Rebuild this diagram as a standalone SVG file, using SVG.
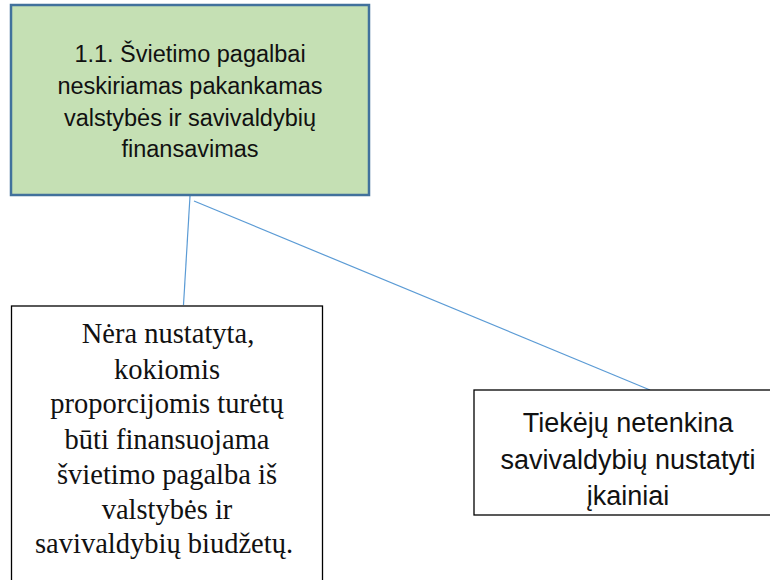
<svg xmlns="http://www.w3.org/2000/svg" width="770" height="580" viewBox="0 0 770 580">
<style>
.conn{stroke:#5B9BD5;stroke-width:1.2;fill:none}
.top{fill:#C5E0B4;stroke:#41719C;stroke-width:2.5}
.box{fill:#ffffff;stroke:#000000;stroke-width:1.3}
.sans{font-family:"Liberation Sans",Arial,sans-serif;fill:#111;text-anchor:middle}
.serif{font-family:"Liberation Serif","Times New Roman",serif;fill:#111;text-anchor:middle}
</style>
<rect width="770" height="580" fill="#ffffff"/>
<g id="connectors">
<line class="conn" x1="190" y1="196" x2="183.5" y2="305"/>
<line class="conn" x1="194" y1="201" x2="650" y2="390"/>
</g>
<g id="node-top">
<rect class="top" x="11" y="5" width="358" height="190"/>
<text class="sans" font-size="23.5" x="190"><tspan x="190" y="62">1.1. Švietimo pagalbai</tspan><tspan x="190" y="94">neskiriamas pakankamas</tspan><tspan x="190" y="126">valstybės ir savivaldybių</tspan><tspan x="190" y="157">finansavimas</tspan></text>
</g>
<g id="node-left">
<rect class="box" x="11.5" y="306" width="311" height="290"/>
<text class="serif" font-size="28.5" x="167"><tspan x="168" y="343">Nėra nustatyta,</tspan><tspan x="167" y="379">kokiomis</tspan><tspan x="167" y="413">proporcijomis turėtų</tspan><tspan x="167" y="449">būti finansuojama</tspan><tspan x="167" y="484">švietimo pagalba iš</tspan><tspan x="167" y="519">valstybės ir</tspan><tspan x="164" y="553">savivaldybių biudžetų.</tspan></text>
</g>
<g id="node-right">
<rect class="box" x="474" y="390" width="310" height="125"/>
<text class="sans" font-size="27" x="628"><tspan x="628" y="432">Tiekėjų netenkina</tspan><tspan x="628" y="469">savivaldybių nustatyti</tspan><tspan x="628" y="505">įkainiai</tspan></text>
</g>
</svg>
